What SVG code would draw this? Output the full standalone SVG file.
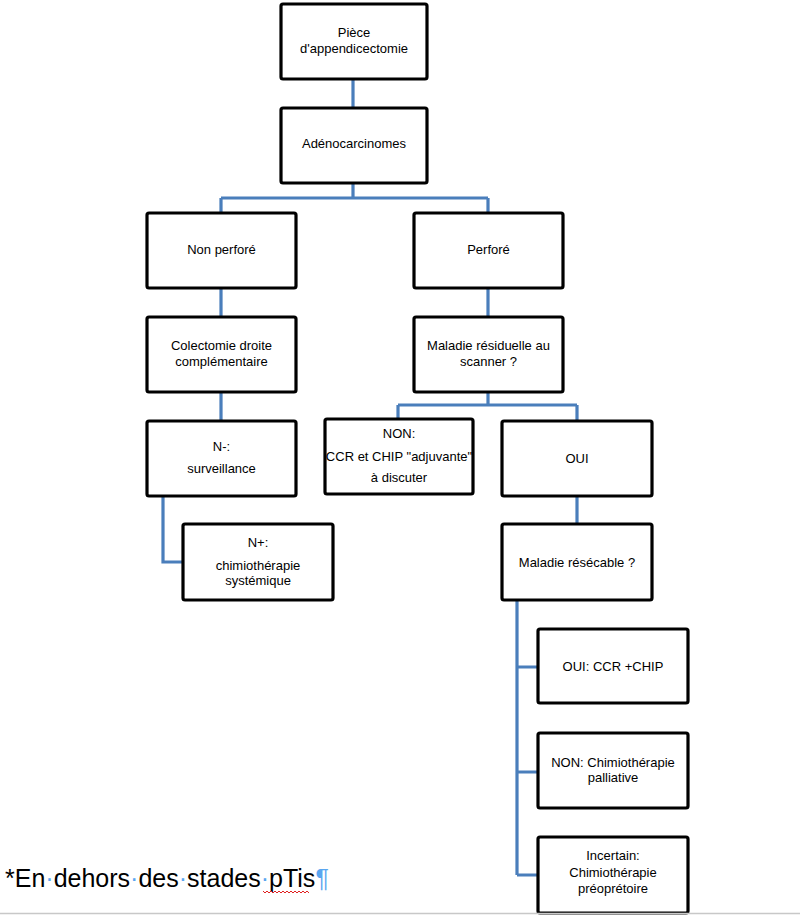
<svg xmlns="http://www.w3.org/2000/svg" width="800" height="916" viewBox="0 0 800 916">
<style>
.box{fill:#fff;stroke:#000;stroke-width:3.2}
.t{font-family:"Liberation Sans",Arial,sans-serif;font-size:13px;fill:#000;text-anchor:middle}
.c{fill:none;stroke:#4a7ebb;stroke-width:3.2}
.foot{font-family:"Liberation Sans",Arial,sans-serif;font-size:25px;fill:#000}
.mark{fill:#5aa6f0}
</style>
<rect width="800" height="916" fill="#fff"/>
<g id="connectors">
<path class="c" d="M353 79V108"/>
<path class="c" d="M353 183V198M221 198H488M221 198V213M488 198V213"/>
<path class="c" d="M221 288V317M488 288V317"/>
<path class="c" d="M221 392V421"/>
<path class="c" d="M163 496V562H183"/>
<path class="c" d="M488 392V405M398 405H577M398 405V419M577 405V421"/>
<path class="c" d="M577 496V524"/>
<path class="c" d="M517 600V875M517 667H538M517 772H538M517 875H538"/>
</g>
<g id="n1"><rect class="box" x="281" y="4" width="146" height="75" rx="2"/><text class="t" x="354" y="37">Pièce</text><text class="t" x="354" y="53">d'appendicectomie</text></g>
<g id="n2"><rect class="box" x="281" y="108" width="146" height="75" rx="2"/><text class="t" x="354" y="148">Adénocarcinomes</text></g>
<g id="n3"><rect class="box" x="147" y="213" width="149" height="75" rx="2"/><text class="t" x="221.5" y="254">Non perforé</text></g>
<g id="n4"><rect class="box" x="414" y="213" width="149" height="75" rx="2"/><text class="t" x="488.5" y="254">Perforé</text></g>
<g id="n5"><rect class="box" x="147" y="317" width="149" height="75" rx="2"/><text class="t" x="221.5" y="350">Colectomie droite</text><text class="t" x="221.5" y="366">complémentaire</text></g>
<g id="n6"><rect class="box" x="414" y="317" width="149" height="75" rx="2"/><text class="t" x="488.5" y="350">Maladie résiduelle au</text><text class="t" x="488.5" y="366">scanner ?</text></g>
<g id="n7"><rect class="box" x="147" y="421" width="149" height="75" rx="2"/><text class="t" x="221.5" y="451">N-:</text><text class="t" x="221.5" y="473">surveillance</text></g>
<g id="n8"><rect class="box" x="325" y="419" width="148" height="75" rx="2"/><text class="t" x="399" y="438">NON:</text><text class="t" x="399" y="461">CCR et CHIP "adjuvante"</text><text class="t" x="399" y="482">à discuter</text></g>
<g id="n9"><rect class="box" x="183" y="524" width="150" height="76" rx="2"/><text class="t" x="258" y="547">N+:</text><text class="t" x="258" y="570">chimiothérapie</text><text class="t" x="258" y="585">systémique</text></g>
<g id="n10"><rect class="box" x="502" y="421" width="150" height="75" rx="2"/><text class="t" x="577" y="463">OUI</text></g>
<g id="n11"><rect class="box" x="502" y="524" width="150" height="76" rx="2"/><text class="t" x="577" y="567">Maladie résécable ?</text></g>
<g id="n12"><rect class="box" x="538" y="629" width="150" height="74" rx="2"/><text class="t" x="613" y="671">OUI: CCR +CHIP</text></g>
<g id="n13"><rect class="box" x="538" y="733" width="150" height="75" rx="2"/><text class="t" x="613" y="767">NON: Chimiothérapie</text><text class="t" x="613" y="782">palliative</text></g>
<g id="n14"><rect class="box" x="538" y="837" width="150" height="76" rx="2"/><text class="t" x="613" y="860">Incertain:</text><text class="t" x="613" y="877">Chimiothérapie</text><text class="t" x="613" y="893">préoprétoire</text></g>
<text class="foot" x="5" y="887">*En<tspan class="mark">·</tspan>dehors<tspan class="mark">·</tspan>des<tspan class="mark">·</tspan>stades<tspan class="mark">·</tspan>pTis<tspan class="mark">¶</tspan></text>
<path d="M263 891l2 2 2-2 2 2 2-2 2 2 2-2 2 2 2-2 2 2 2-2 2 2 2-2 2 2 2-2 2 2 2-2 2 2 2-2 2 2 2-2 2 2 2-2 2 2" fill="none" stroke="#e02020" stroke-width="1"/>
<path d="M0 913.5H800" stroke="#c8c8c8" stroke-width="1.5"/>
</svg>
